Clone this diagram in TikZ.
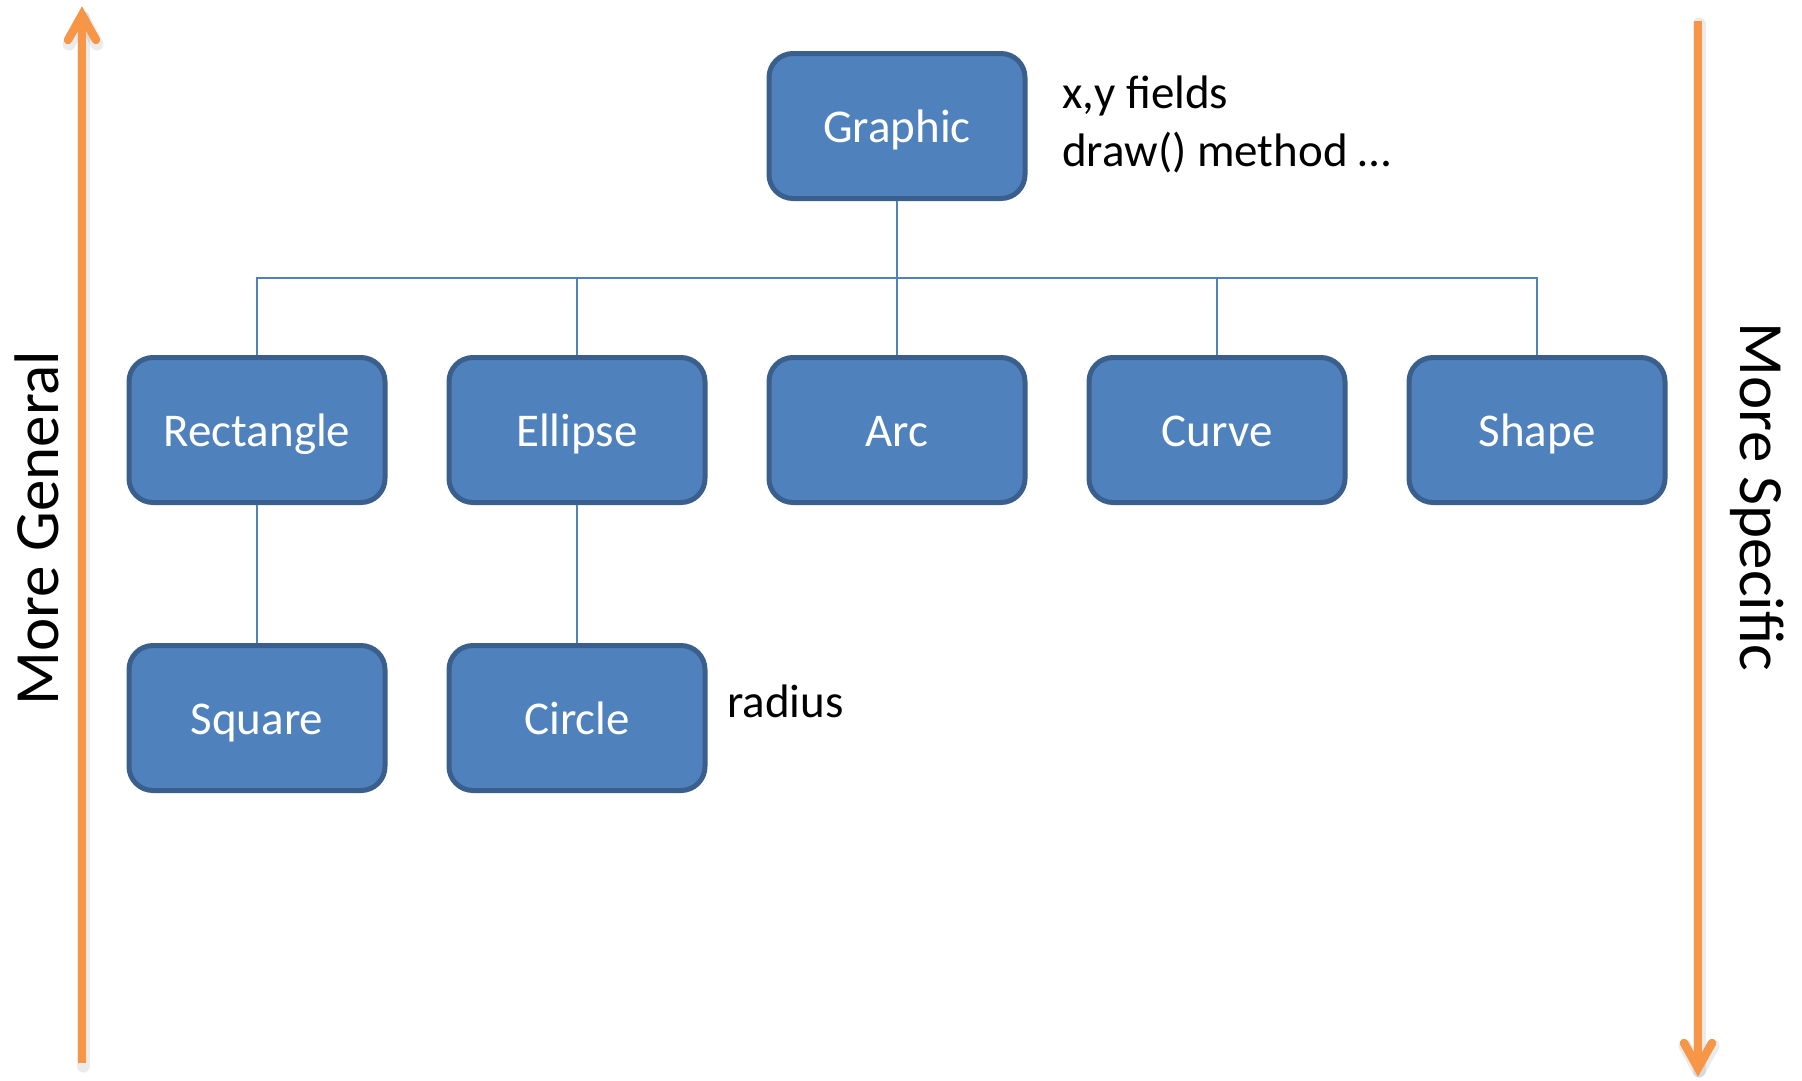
\documentclass[tikz,border=0pt]{standalone}
\usepackage{fontspec}
\setmainfont{Carlito}
\usetikzlibrary{calc}
\definecolor{boxfill}{HTML}{4F81BD}
\definecolor{boxline}{HTML}{3A5F8C}
\definecolor{wire}{HTML}{4F81BD}
\definecolor{axis}{HTML}{F79646}
\tikzset{
  classbox/.style={draw=boxline, line width=5pt, fill=boxfill, rounded corners=24pt,
    minimum width=256pt, minimum height=145pt, inner sep=0pt, text=white,
    text height=35pt, text depth=3pt,
    font=\fontsize{47}{56}\selectfont},
  wireline/.style={draw=wire, line width=2pt},
  axisline/.style={draw=axis, line width=8.5pt},
  axishead/.style={draw=axis, line width=8.5pt, line cap=round, line join=miter},
  axisshade/.style={draw=black, opacity=0.08, line width=13pt, line cap=round, line join=round},
  note/.style={anchor=base west, inner sep=0pt, font=\fontsize{47}{56}\selectfont},
  sidelabel/.style={inner sep=0pt, font=\fontsize{63}{72}\selectfont}
}
\begin{document}
\begin{tikzpicture}[x=1pt,y=-1pt]
\useasboundingbox (0,0) rectangle (1802,1080);

% class hierarchy
\node[classbox] (graphic) at (897,126) {Graphic};
\node[classbox] (rect)    at (257,430) {Rectangle};
\node[classbox] (ellipse) at (577,430) {Ellipse};
\node[classbox] (arc)     at (897,430) {Arc};
\node[classbox] (curve)   at (1217,430) {Curve};
\node[classbox] (shape)   at (1537,430) {Shape};
\node[classbox] (square)  at (257,718) {Square};
\node[classbox] (circle)  at (577,718) {Circle};

\coordinate (bus) at (0,278);

% connectors between parent and child classes
\foreach \c in {rect,ellipse,arc,curve,shape}
  \draw[wireline] (graphic.south) -- (graphic.south |- bus) -| (\c.north);
\draw[wireline] (rect.south) -- (square.north);
\draw[wireline] (ellipse.south) -- (circle.north);

% annotations
\node[note] (fields) at (1062,108) {x,y fields};
\node[note] (method) at (1062,166) {draw() method …};
\node[note] (radius) at (727,717) {radius};

% generality axis on the left
\coordinate (gbot) at (82,1063);
\coordinate (gtop) at (82,15);
\draw[axisshade] ($(gbot)+(1,3)$) -- ($(gtop)+(1,3)$);
\draw[axisshade] ($(gtop)+(-13,29)$) -- ($(gtop)+(1,3)$) -- ($(gtop)+(15,29)$);
\draw[axisline] (gbot) -- (gtop);
\draw[axishead] ($(gtop)+(-14,25)$) -- (gtop) -- ($(gtop)+(14,25)$);
\node[sidelabel, rotate=90] (general) at (37,528) {More General};

% specificity axis on the right
\coordinate (stop) at (1698,21);
\coordinate (sbot) at (1698,1068);
\draw[axisshade] ($(stop)+(1,3)$) -- ($(sbot)+(1,3)$);
\draw[axisshade] ($(sbot)+(-13,-22)$) -- ($(sbot)+(1,3)$) -- ($(sbot)+(15,-22)$);
\draw[axisline] (stop) -- (sbot);
\draw[axishead] ($(sbot)+(-14,-25)$) -- (sbot) -- ($(sbot)+(14,-25)$);
\node[sidelabel, rotate=-90] (specific) at (1757,497) {More Specific};
\end{tikzpicture}
\end{document}
